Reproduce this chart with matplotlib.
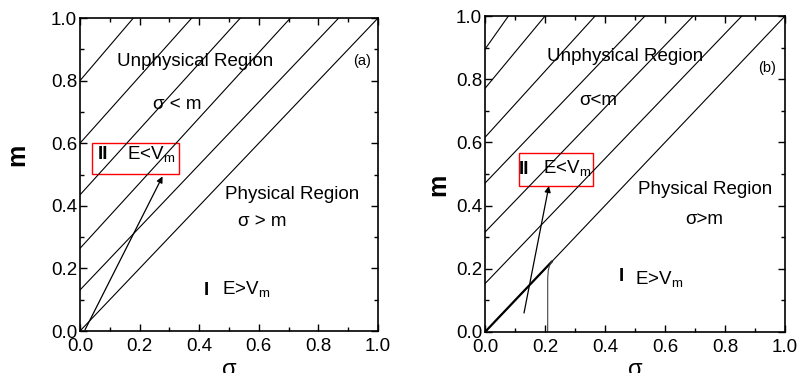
import numpy as np
import matplotlib
matplotlib.use('Agg')
from matplotlib import pyplot as plt
from matplotlib.patches import Rectangle
from matplotlib.ticker import MultipleLocator

plt.rcParams['font.family'] = ['Liberation Sans', 'DejaVu Sans']

# Linhas diagonais: interseccao com o eixo m (sigma=0) e sigma onde tocam m=1
a_intercepts = [0.0, 0.131, 0.264, 0.435, 0.6, 0.8]
a_top_x = [1.0, 0.868, 0.706, 0.538, 0.375, 0.179]
b_intercepts = [0.0, 0.153, 0.316, 0.471, 0.616, 0.771, 0.895]
b_top_x = [1.0, 0.856, 0.694, 0.533, 0.367, 0.2, 0.078]

# Setas (inicio -> fim)
a_arrow = [(0.017, 0.004), (0.277, 0.494)]
b_arrow = [(0.13, 0.06), (0.213, 0.462)]

# Caixas vermelhas (x0, y0, x1, y1)
a_box = (0.039, 0.501, 0.333, 0.602)
b_box = (0.114, 0.463, 0.361, 0.565)

# Trecho grosso e curva vertical do painel (b)
b_thick_x = [0.0, 0.222]
b_thick_y = [0.0, 0.222]
b_curve_x = [0.209, 0.209, 0.211, 0.215, 0.222]
b_curve_y = [0.0, 0.17, 0.195, 0.21, 0.222]

ticks = [0.0, 0.2, 0.4, 0.6, 0.8, 1.0]
tick_labels = ['0.0', '0.2', '0.4', '0.6', '0.8', '1.0']

FS = 13.5

fig = plt.figure(figsize=(7.99, 3.73), dpi=100)
ax1 = fig.add_axes([0.1001, 0.1126, 0.373, 0.839])
ax2 = fig.add_axes([0.607, 0.110, 0.3755, 0.847])


def style(ax):
    ax.set_xlim(0, 1)
    ax.set_ylim(0, 1)
    ax.set_xticks(ticks)
    ax.set_yticks(ticks)
    ax.set_xticklabels(tick_labels)
    ax.set_yticklabels(tick_labels)
    ax.xaxis.set_minor_locator(MultipleLocator(0.1))
    ax.yaxis.set_minor_locator(MultipleLocator(0.1))
    ax.tick_params(which='both', direction='in', top=True, right=True,
                   width=1.0, labelsize=FS)
    ax.tick_params(axis='x', pad=5)
    ax.tick_params(axis='y', pad=2)
    ax.tick_params(which='major', length=5)
    ax.tick_params(which='minor', length=3)
    for s in ax.spines.values():
        s.set_linewidth(1.2)


def diagonals(ax, intercepts, top_x):
    for b, xt in zip(intercepts, top_x):
        ax.plot([0, xt], [b, 1.0], color='black', lw=0.8)


def arrow(ax, pts):
    ax.annotate('', xy=pts[1], xytext=pts[0],
                arrowprops=dict(arrowstyle='-|>', color='black', lw=0.9,
                                mutation_scale=9, shrinkA=0, shrinkB=0))


def box(ax, b):
    ax.add_patch(Rectangle((b[0], b[1]), b[2] - b[0], b[3] - b[1],
                           fill=False, edgecolor='red', lw=1.0))


# Painel (a)
style(ax1)
diagonals(ax1, a_intercepts, a_top_x)
arrow(ax1, a_arrow)
box(ax1, a_box)
ax1.text(0.386, 0.862, 'Unphysical Region', fontsize=FS, ha='center', va='center')
ax1.text(0.325, 0.723, 'σ < m', fontsize=FS, ha='center', va='center')
ax1.text(0.946, 0.862, '(a)', fontsize=10.5, ha='center', va='center')
ax1.text(0.060, 0.563, 'II', fontsize=FS, fontweight='bold', ha='left', va='center')
ax1.text(0.157, 0.563, r'E<V$_{\mathregular{m}}$', fontsize=FS, ha='left', va='center')
ax1.text(0.713, 0.437, 'Physical Region', fontsize=FS, ha='center', va='center')
ax1.text(0.613, 0.350, 'σ > m', fontsize=FS, ha='center', va='center')
ax1.text(0.415, 0.131, 'I', fontsize=FS, fontweight='bold', ha='left', va='center')
ax1.text(0.476, 0.131, r'E>V$_{\mathregular{m}}$', fontsize=FS, ha='left', va='center')

# Painel (b)
style(ax2)
diagonals(ax2, b_intercepts, b_top_x)
ax2.plot(b_thick_x, b_thick_y, color='black', lw=1.6)
ax2.plot(b_curve_x, b_curve_y, color='#444444', lw=0.8)
arrow(ax2, b_arrow)
box(ax2, b_box)
ax2.text(0.467, 0.871, 'Unphysical Region', fontsize=FS, ha='center', va='center')
ax2.text(0.378, 0.734, 'σ<m', fontsize=FS, ha='center', va='center')
ax2.text(0.939, 0.835, '(b)', fontsize=10.5, ha='center', va='center')
ax2.text(0.113, 0.515, 'II', fontsize=FS, fontweight='bold', ha='left', va='center')
ax2.text(0.194, 0.515, r'E<V$_{\mathregular{m}}$', fontsize=FS, ha='left', va='center')
ax2.text(0.733, 0.450, 'Physical Region', fontsize=FS, ha='center', va='center')
ax2.text(0.730, 0.355, 'σ>m', fontsize=FS, ha='center', va='center')
ax2.text(0.445, 0.176, 'I', fontsize=FS, fontweight='bold', ha='left', va='center')
ax2.text(0.500, 0.165, r'E>V$_{\mathregular{m}}$', fontsize=FS, ha='left', va='center')

# Rotulos dos eixos
fig.text(17 / 799, 1 - 155 / 373, 'm', fontsize=18, fontweight='bold',
         rotation=90, ha='center', va='center')
fig.text(438 / 799, 1 - 185 / 373, 'm', fontsize=18, fontweight='bold',
         rotation=90, ha='center', va='center')
fig.text(229 / 799, -0.008, 'σ', fontsize=17, ha='center', va='baseline')
fig.text(635 / 799, -0.008, 'σ', fontsize=17, ha='center', va='baseline')

plt.savefig('out.png', dpi=100)
